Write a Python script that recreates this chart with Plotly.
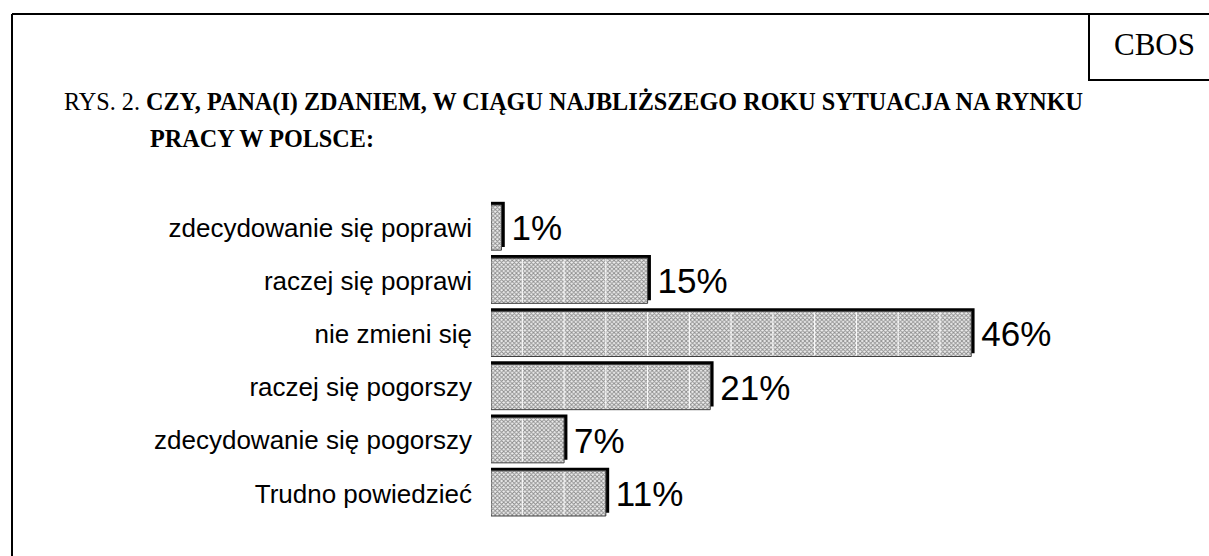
import plotly.graph_objects as go

categories = ["zdecydowanie się poprawi", "raczej się poprawi", "nie zmieni się",
              "raczej się pogorszy", "zdecydowanie się pogorszy", "Trudno powiedzieć"]
values = [1, 15, 46, 21, 7, 11]
labels = ["1%", "15%", "46%", "21%", "7%", "11%"]
grid_vals = [3, 7, 11, 15, 19, 23, 27, 31, 35, 39, 43, 47]

W, H = 1209, 556
ML, MR, MT, MB = 491, 196, 201, 36
PW, PH = W - ML - MR, H - MT - MB

def px(x):
    return (x - ML) / PW

def py(y):
    return (H - MB - y) / PH

n = len(categories)
ypos = list(range(n - 1, -1, -1))
bw = 0.85
dy = 0.06

fig = go.Figure()
# shadow
fig.add_trace(go.Bar(
    x=[v + 0.32 for v in values], y=ypos, orientation="h", width=bw,
    offset=-bw / 2 + dy, marker=dict(color="black", line=dict(width=0)),
    hoverinfo="skip", showlegend=False))
# main bars
fig.add_trace(go.Bar(
    x=values, y=ypos, orientation="h", width=bw,
    marker=dict(color="#d8d8d8", line=dict(color="#404040", width=1),
                pattern=dict(shape="x", size=3, solidity=0.5,
                             fgcolor="#8a8a8a", bgcolor="#eeeeee", fillmode="replace")),
    text=["\u2009" + t for t in labels], textposition="outside", constraintext="none",
    cliponaxis=False,
    textfont=dict(family="Liberation Sans, Arial", size=35, color="black"),
    hoverinfo="skip", showlegend=False))

shapes = []
for yv, v in zip(ypos, values):
    for g in grid_vals:
        if g < v:
            shapes.append(dict(type="line", xref="x", yref="y", x0=g, x1=g,
                               y0=yv - bw / 2 + 0.02, y1=yv + bw / 2 - 0.02,
                               line=dict(color="white", width=1), layer="above"))

# outer frame
shapes.append(dict(type="line", xref="paper", yref="paper", x0=px(12), x1=px(1215),
                   y0=py(14), y1=py(14), line=dict(color="black", width=2)))
shapes.append(dict(type="line", xref="paper", yref="paper", x0=px(12), x1=px(12),
                   y0=py(14), y1=py(570), line=dict(color="black", width=2)))
# CBOS box
shapes.append(dict(type="rect", xref="paper", yref="paper", x0=px(1089), x1=px(1215),
                   y0=py(80), y1=py(14), line=dict(color="black", width=2)))

annotations = [
    dict(text="CBOS", xref="paper", yref="paper", x=px(1154), y=py(45),
         xanchor="center", yanchor="middle", showarrow=False,
         font=dict(family="Liberation Serif, Times New Roman", size=31, color="black")),
    dict(text="RYS. 2. <b>CZY, PANA(I) ZDANIEM, W CIĄGU NAJBLIŻSZEGO ROKU SYTUACJA NA RYNKU</b>",
         xref="paper", yref="paper", x=px(62), y=py(102),
         xanchor="left", yanchor="middle", showarrow=False,
         font=dict(family="Liberation Serif, Times New Roman", size=24.2, color="black")),
    dict(text="<b>PRACY W POLSCE:</b>",
         xref="paper", yref="paper", x=px(148), y=py(138),
         xanchor="left", yanchor="middle", showarrow=False,
         font=dict(family="Liberation Serif, Times New Roman", size=24.2, color="black")),
]

fig.update_layout(
    width=W, height=H, margin=dict(l=ML, r=MR, t=MT, b=MB, autoexpand=False),
    barmode="overlay", plot_bgcolor="white", paper_bgcolor="white",
    shapes=shapes, annotations=annotations,
    xaxis=dict(range=[0, 50], showgrid=False, zeroline=False, showticklabels=False,
               showline=False, ticks=""),
    yaxis=dict(range=[-0.5, n - 0.5], tickvals=ypos, ticktext=categories,
               showgrid=False, zeroline=False, showline=False, ticks="",
               ticklabelstandoff=18,
               tickfont=dict(family="Liberation Sans, Arial", size=26, color="black")),
)

fig.write_html("out.html", config={"displayModeBar": False})

with open("out.html", encoding="utf-8") as f:
    html = f.read()
html = html.replace("<head>", "<head><style>html,body{margin:0;padding:0;overflow:hidden;}</style>", 1)
with open("out.html", "w", encoding="utf-8") as f:
    f.write(html)
